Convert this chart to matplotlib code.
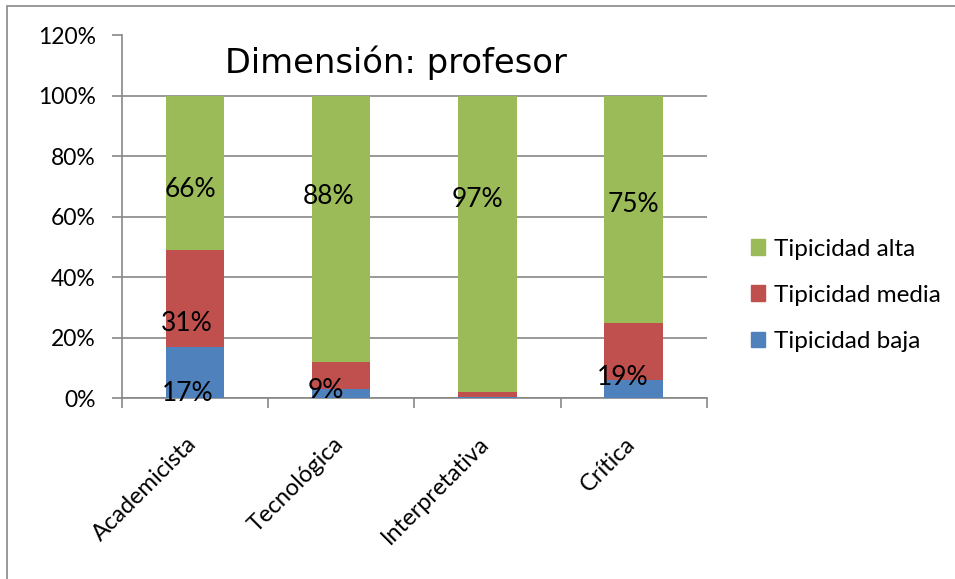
import matplotlib
matplotlib.use("Agg")
import matplotlib.pyplot as plt
import matplotlib.transforms as mtrans
import numpy as np
from matplotlib.patches import Rectangle, Patch

plt.rcParams['font.family'] = ['Lato', 'DejaVu Sans']

# datos
categorias = ["Academicista", "Tecnológica", "Interpretativa", "Crítica"]
tip_baja = [17, 3, 0.3, 6]
tip_media = [32, 9, 1.7, 19]
tip_alta = [51, 88, 98, 75]

# etiquetas de datos (texto tal cual aparece en el gráfico)
etiquetas = ["17%", "31%", "66%", "9%", "88%", "97%", "19%", "75%"]
etiq_cat = [0, 0, 0, 1, 1, 2, 3, 3]
# posición de cada etiqueta (desplazamiento x en categorías, y en %)
etiq_dx = [-0.05, -0.055, -0.03, -0.108, -0.085, -0.067, -0.073, 0.0]
etiq_y = [1.7, 24.8, 69, 2.7, 66.8, 65.7, 6.8, 64]

c_baja = "#4F81BD"
c_media = "#C0504D"
c_alta = "#9BBB59"
gris = "#878787"

fig = plt.figure(figsize=(9.55, 5.79), dpi=100)
fig.patch.set_facecolor("white")

# marco exterior del área del gráfico
fig.patches.append(Rectangle((7 / 955, -0.1), 1.2, 1 - 6.5 / 579 + 0.1,
                             transform=fig.transFigure, fill=False,
                             edgecolor=gris, linewidth=1.2))

ax = fig.add_axes([122 / 955, 1 - 398.3 / 579, (706.7 - 122) / 955, (398.3 - 35.5) / 579])

x = np.arange(len(categorias))
baja = np.array(tip_baja) / 100
media = np.array(tip_media) / 100
alta = np.array(tip_alta) / 100
w = 0.4
ax.bar(x, baja, w, color=c_baja, zorder=3)
ax.bar(x, media, w, bottom=baja, color=c_media, zorder=3)
ax.bar(x, alta, w, bottom=baja + media, color=c_alta, zorder=3)

for t, c, dx, yy in zip(etiquetas, etiq_cat, etiq_dx, etiq_y):
    ax.text(c + dx, yy / 100, t, ha="center", va="center", fontsize=19,
            color="black", zorder=5)

ax.set_xlim(-0.5, 3.5)
ax.set_ylim(0, 1.2)
ax.set_yticks(np.arange(0, 1.21, 0.2))
ax.set_yticklabels(["%d%%" % round(v * 100) for v in np.arange(0, 1.21, 0.2)], fontsize=16.5)
ax.yaxis.grid(True, color=gris, linewidth=1.2, zorder=0)
ax.set_axisbelow(True)

ax.set_xticks(np.arange(-0.5, 3.6, 1))
ax.set_xticklabels([])
ax.set_xticks(x, minor=True)
ax.set_xticklabels(categorias, minor=True, rotation=45, ha="right", fontsize=17)
ax.tick_params(axis="x", which="minor", length=0, pad=25)
ax.tick_params(axis="x", which="major", length=7, width=1.2, color=gris, direction="out")
ax.tick_params(axis="y", length=7, width=1.2, color=gris, pad=12)
desplaza = mtrans.ScaledTranslation(6 / 100, 0, fig.dpi_scale_trans)
for lab in ax.get_xticklabels(minor=True):
    lab.set_transform(lab.get_transform() + desplaza)

for s in ["top", "right"]:
    ax.spines[s].set_visible(False)
for s in ["left", "bottom"]:
    ax.spines[s].set_color(gris)
    ax.spines[s].set_linewidth(1.2)

fig.text(396 / 955, 1 - 63 / 579, "Dimensión: profesor", ha="center", va="center",
         fontsize=24.3, family="DejaVu Sans")

handles = [Patch(color=c_alta, label="Tipicidad alta"),
           Patch(color=c_media, label="Tipicidad media"),
           Patch(color=c_baja, label="Tipicidad baja")]
fig.legend(handles=handles, loc="upper left", bbox_to_anchor=(741 / 955, 1 - 229 / 579),
           frameon=False, fontsize=17.5, handlelength=0.6, handleheight=0.6,
           handletextpad=0.35, labelspacing=1.03, borderaxespad=0)

fig.savefig("out.png", dpi=100, facecolor="white")
